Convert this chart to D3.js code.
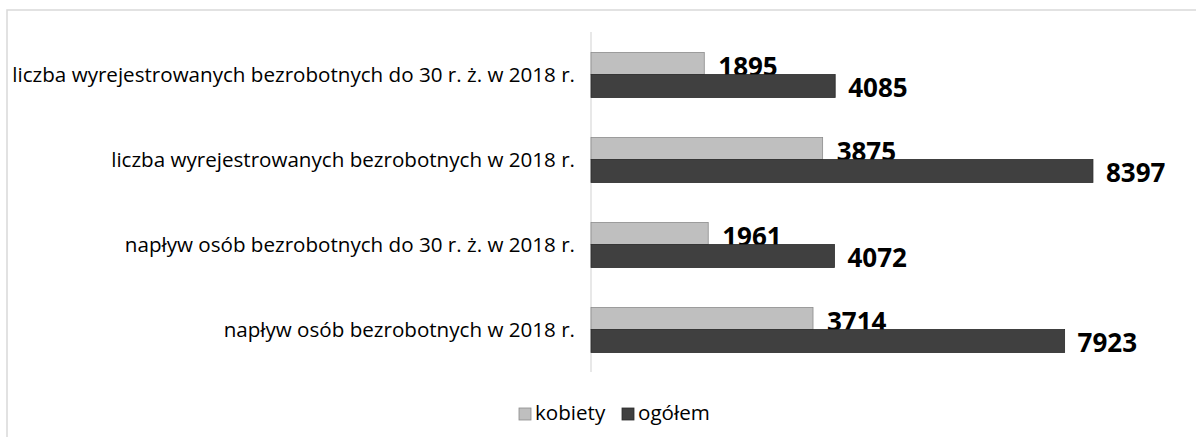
<!DOCTYPE html>
<html>
<head>
<meta charset="utf-8">
<script src="https://cdn.jsdelivr.net/npm/d3@7/dist/d3.min.js"></script>
<style>
  html, body { margin: 0; padding: 0; background: #fff; }
  svg { display: block; }
</style>
</head>
<body>
<svg id="chart" width="1196" height="437"></svg>
<script>
const categories = [
  "liczba wyrejestrowanych bezrobotnych do 30 r. ż. w 2018 r.",
  "liczba wyrejestrowanych bezrobotnych w 2018 r.",
  "napływ osób bezrobotnych do 30 r. ż. w 2018 r.",
  "napływ osób bezrobotnych w 2018 r."
];
const kobiety = [1895, 3875, 1961, 3714];
const ogolem  = [4085, 8397, 4072, 7923];
const seriesNames = ["kobiety", "ogółem"];
const seriesColors = ["#bfbfbf", "#404040"];
const seriesStrokes = ["#8c8c8c", "#2a2a2a"];

const svg = d3.select("#chart");
const W = 1196, H = 437;

// outer frame
svg.append("path")
  .attr("d", `M7,${H+5} L7,10 L${W+5},10`)
  .attr("fill", "none").attr("stroke", "#d9d9d9").attr("stroke-width", 1.5);

const x = d3.scaleLinear().domain([0, 9000]).range([591, 1129]);
const y = d3.scaleBand().domain(categories).range([32, 372]).paddingInner(0).paddingOuter(0);
const barH = 22;

// axis line (category axis)
svg.append("line")
  .attr("x1", x(0)).attr("x2", x(0))
  .attr("y1", y.range()[0]).attr("y2", y.range()[1])
  .attr("stroke", "#d9d9d9").attr("stroke-width", 1.2);

const mid = c => y(c) + y.bandwidth() / 2;

// kobiety bars
svg.append("g").selectAll("rect").data(categories).join("rect")
  .attr("x", x(0))
  .attr("y", c => mid(c) - barH)
  .attr("width", (c, i) => x(kobiety[i]) - x(0))
  .attr("height", barH)
  .attr("fill", seriesColors[0]).attr("stroke", seriesStrokes[0]).attr("stroke-width", 0.8);

// kobiety labels (drawn before ogółem bars so those overlap them)
svg.append("g").selectAll("text").data(categories).join("text")
  .attr("x", (c, i) => x(kobiety[i]) + 14)
  .attr("y", c => mid(c) + 1.5)
  .attr("font-family", "'Open Sans', sans-serif")
  .attr("font-weight", "bold").attr("font-size", 26)
  .attr("fill", "#000")
  .text((c, i) => kobiety[i]);

// ogółem bars
svg.append("g").selectAll("rect").data(categories).join("rect")
  .attr("x", x(0))
  .attr("y", c => mid(c))
  .attr("width", (c, i) => x(ogolem[i]) - x(0))
  .attr("height", barH + 1)
  .attr("fill", seriesColors[1]).attr("stroke", seriesStrokes[1]).attr("stroke-width", 0.8);

// ogółem labels
svg.append("g").selectAll("text").data(categories).join("text")
  .attr("x", (c, i) => x(ogolem[i]) + 13)
  .attr("y", c => mid(c) + 22)
  .attr("font-family", "'Open Sans', sans-serif")
  .attr("font-weight", "bold").attr("font-size", 26)
  .attr("fill", "#000")
  .text((c, i) => ogolem[i]);

// category labels, right aligned; fit font to the first label's width
const catG = svg.append("g");
const probe = catG.append("text")
  .attr("font-family", "'Open Sans', sans-serif").attr("font-size", 20)
  .text(categories[0]);
const probeLen = probe.node().getComputedTextLength();
probe.remove();
const catFont = 20 * 563 / probeLen;
catG.selectAll("text").data(categories).join("text")
  .attr("x", 575)
  .attr("y", c => mid(c) + 2)
  .attr("dominant-baseline", "middle")
  .attr("text-anchor", "end")
  .attr("font-family", "'Open Sans', sans-serif")
  .attr("font-size", catFont)
  .attr("fill", "#000")
  .text(c => c);

// legend
const legX = [519, 622];
const leg = svg.append("g");
seriesNames.forEach((n, i) => {
  leg.append("rect")
    .attr("x", legX[i]).attr("y", 408).attr("width", 12).attr("height", 12)
    .attr("fill", seriesColors[i]).attr("stroke", seriesStrokes[i]).attr("stroke-width", 0.8);
  leg.append("text")
    .attr("x", legX[i] + 16).attr("y", 420)
    .attr("font-family", "'Open Sans', sans-serif")
    .attr("font-size", catFont)
    .attr("fill", "#000")
    .text(n);
});
</script>
</body>
</html>
